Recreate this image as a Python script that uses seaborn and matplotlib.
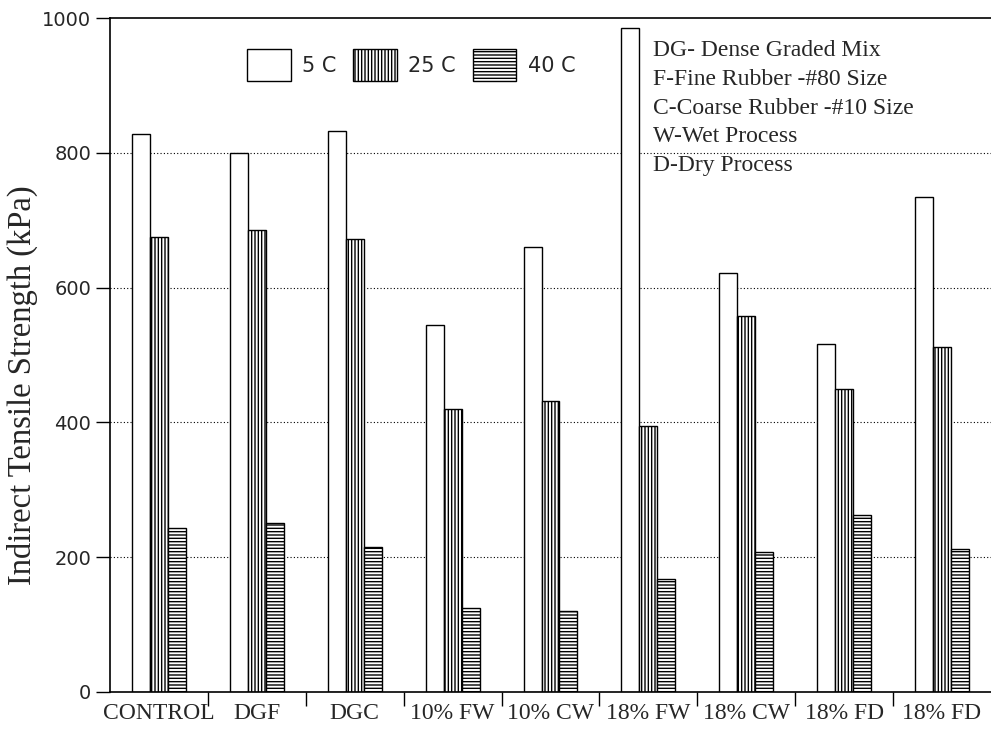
import matplotlib
matplotlib.use("Agg")
import matplotlib.pyplot as plt
import seaborn as sns
import pandas as pd
import numpy as np
from matplotlib.patches import Patch

categories = ["CONTROL", "DGF", "DGC", "10% FW", "10% CW", "18% FW", "18% CW", "18% FD", "18% FD "]
temps = ["5 C", "25 C", "40 C"]
its_5c = [828, 800, 832, 545, 660, 985, 622, 517, 735]
its_25c = [675, 686, 672, 420, 432, 395, 558, 450, 512]
its_40c = [243, 250, 215, 125, 120, 168, 208, 262, 212]
notes = ["DG- Dense Graded Mix", "F-Fine Rubber -#80 Size", "C-Coarse Rubber -#10 Size",
         "W-Wet Process", "D-Dry Process"]

df = pd.DataFrame({
    "Mix": categories * 3,
    "Temp": [temps[0]] * 9 + [temps[1]] * 9 + [temps[2]] * 9,
    "ITS": its_5c + its_25c + its_40c,
})

sns.set_theme(style="white")
plt.rcParams["hatch.linewidth"] = 1.0
serif = ["Liberation Serif", "DejaVu Serif"]

fig = plt.figure(figsize=(9.91, 7.29), dpi=100)
ax = fig.add_axes([0.111, 0.0508, 0.889, 0.9245])

sns.barplot(data=df, x="Mix", y="ITS", hue="Temp", order=categories, hue_order=temps,
            palette=["white", "white", "white"], edgecolor="black", linewidth=1.0,
            width=0.55, ax=ax, legend=False, saturation=1)

hatches = ["", "|||||", "-----"]
for cont, h in zip(ax.containers, hatches):
    for p in cont:
        p.set_hatch(h)
        p.set_edgecolor("black")

ax.set_ylim(0, 1000)
ax.set_xlim(-0.5, len(categories) - 0.5)
ax.set_yticks([0, 200, 400, 600, 800, 1000])
ax.set_yticklabels(["0", "200", "400", "600", "800", "1000"], fontsize=14, family="DejaVu Sans")
ax.set_xticks(range(len(categories)))
ax.set_xticklabels([c.strip() for c in categories], fontsize=17, family=serif)
ax.tick_params(axis="x", which="major", length=0, pad=8)
ax.set_xticks(np.arange(0.5, len(categories) - 0.5, 1), minor=True)
ax.tick_params(axis="x", which="minor", length=10, width=1, direction="out", color="black", bottom=True)
ax.tick_params(axis="y", length=10, width=1, direction="out", color="black", left=True)

for y in [200, 400, 600, 800]:
    ax.axhline(y, color="black", linestyle=(0, (1, 2)), linewidth=0.8, zorder=0)

ax.set_xlabel("")
ax.set_ylabel("Indirect Tensile Strength (kPa)", fontsize=23.5, family=serif)
ax.yaxis.set_label_coords(-0.082, 0.455)

for side in ["left", "bottom", "top"]:
    ax.spines[side].set_visible(True)
    ax.spines[side].set_color("black")
    ax.spines[side].set_linewidth(1.2)
ax.spines["right"].set_visible(False)

handles = [Patch(facecolor="white", edgecolor="black", hatch=h, label=t) for h, t in zip(hatches, temps)]
ax.legend(handles=handles, loc="center left", bbox_to_anchor=(0.1555, 0.930), ncol=3, frameon=False,
          handlelength=2.1, handleheight=2.0, columnspacing=0.8, handletextpad=0.55,
          borderpad=0, borderaxespad=0, prop={"family": "DejaVu Sans", "size": 15})

for i, t in enumerate(notes):
    ax.text(0.616, 0.952 - i * 0.0428, t, transform=ax.transAxes, fontsize=17, family=serif,
            va="center", ha="left")

fig.savefig("out.png", dpi=100)
